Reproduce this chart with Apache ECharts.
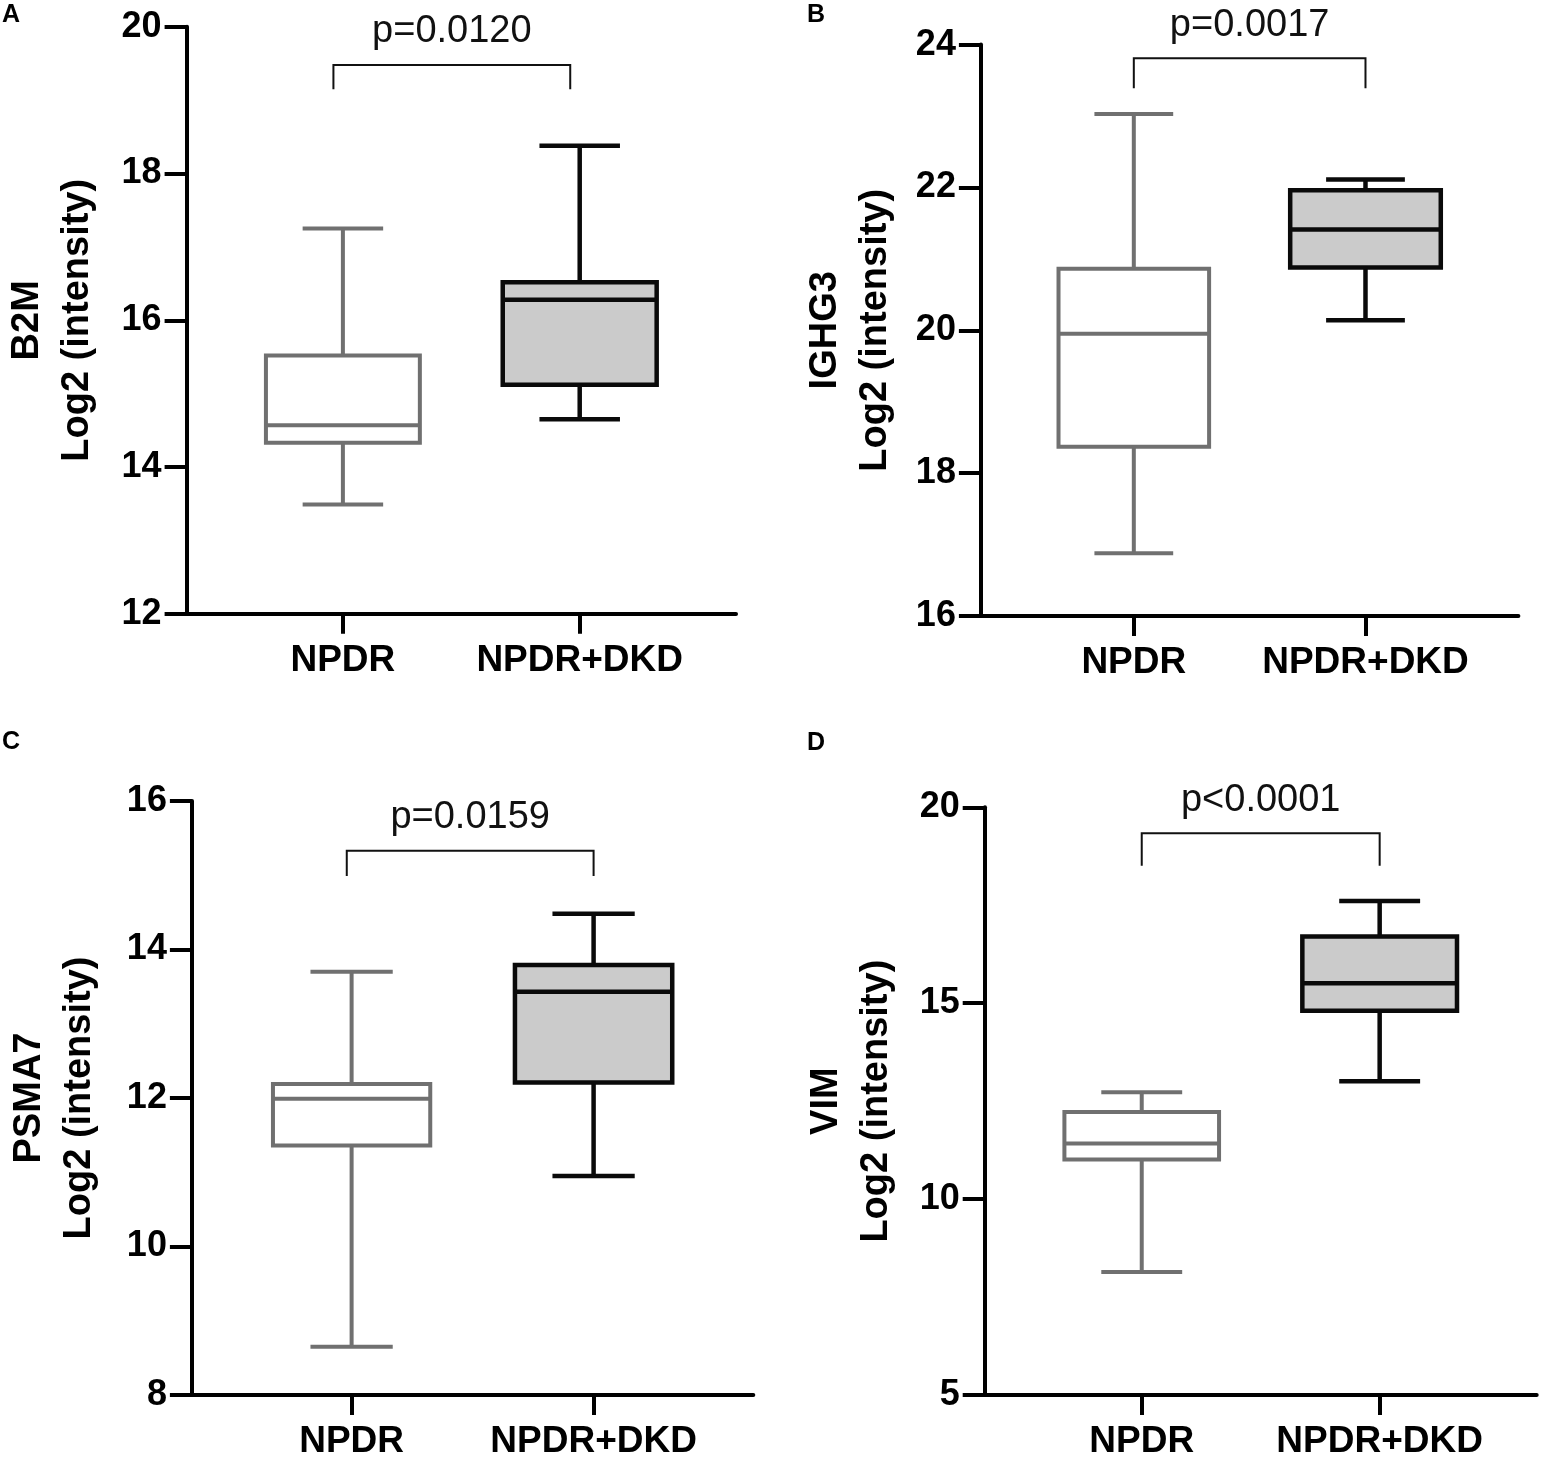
<!DOCTYPE html>
<html>
<head>
<meta charset="utf-8">
<title>Box plots</title>
<script src="https://cdn.jsdelivr.net/npm/echarts@6/dist/echarts.min.js"></script>
<style>
  html, body { margin: 0; padding: 0; background: #fff; }
  #chart { width: 1544px; height: 1460px; }
</style>
</head>
<body>
<div id="chart"></div>
<script>
// group labels (x axis)
const categories = ['NPDR', 'NPDR+DKD']

// box stats per group: [min, Q1, median, Q3, max]
const b2mNPDR = [13.49, 14.33, 14.57, 15.52, 17.25]
const b2mDKD = [14.65, 15.12, 16.28, 16.52, 18.38]
const ighg3NPDR = [16.88, 18.37, 19.95, 20.86, 23.03]
const ighg3DKD = [20.14, 20.88, 21.41, 21.96, 22.11]
const psma7NPDR = [8.65, 11.36, 11.99, 12.19, 13.70]
const psma7DKD = [10.95, 12.21, 13.43, 13.79, 14.48]
const vimNPDR = [8.14, 11.01, 11.42, 12.22, 12.73]
const vimDKD = [13.01, 14.81, 15.51, 16.70, 17.61]

// y axis ranges / ticks
const yMin = [12, 16, 8, 5]
const yMax = [20, 24, 16, 20]
const yStep = [2, 2, 2, 5]

// axis titles and panel letters
const proteins = ['B2M', 'IGHG3', 'PSMA7', 'VIM']
const panelLetters = ['A', 'B', 'C', 'D']

// significance brackets: p text, bracket x ends, bar level, tip level
const pValues = ['p=0.0120', 'p=0.0017', 'p=0.0159', 'p<0.0001']
const bracketLeft = [-0.04, 0, -0.02, 0]
const bracketRight = [0.96, 1, 1, 1]
const bracketTop = [19.48, 23.81, 15.33, 19.34]
const bracketTip = [19.15, 23.39, 14.99, 18.51]

const boxData = [
  [b2mNPDR, b2mDKD],
  [ighg3NPDR, ighg3DKD],
  [psma7NPDR, psma7DKD],
  [vimNPDR, vimDKD]
]

// look
const FONT = 'Liberation Sans, Arial, Helvetica, sans-serif'
const BOX_W = 0.65
const CAP_W = 0.34
const boxStyles = [
  { stroke: '#707070', fill: '#ffffff', lineWidth: 4 },
  { stroke: '#0a0a0a', fill: '#cbcbcb', lineWidth: 4.5 }
]

const grids = [
  { left: 186.6, top: 26.8, width: 549.4, height: 587 },
  { left: 980.9, top: 44.6, width: 537.5, height: 571.4 },
  { left: 191.9, top: 801, width: 561.4, height: 598.3 },
  { left: 984.7, top: 807.3, width: 552, height: 591.7 }
]
const nameGaps = [84, 80, 87, 83]
const letterPos = [[2, 3], [807, 3], [2, 730], [807, 731]]

function renderBox(params, api) {
  var st = boxStyles[params.dataIndex]
  var x = api.value(0)
  var lo = api.coord([x, api.value(1)])
  var q1 = api.coord([x, api.value(2)])
  var med = api.coord([x, api.value(3)])
  var q3 = api.coord([x, api.value(4)])
  var hi = api.coord([x, api.value(5)])
  var bw = api.size([BOX_W, 0])[0]
  var cw = api.size([CAP_W, 0])[0]
  var cx = lo[0]
  var line = { stroke: st.stroke, lineWidth: st.lineWidth }
  return {
    type: 'group',
    children: [
      { type: 'line', shape: { x1: cx, y1: hi[1], x2: cx, y2: q3[1] }, style: line },
      { type: 'line', shape: { x1: cx, y1: q1[1], x2: cx, y2: lo[1] }, style: line },
      { type: 'line', shape: { x1: cx - cw / 2, y1: hi[1], x2: cx + cw / 2, y2: hi[1] }, style: line },
      { type: 'line', shape: { x1: cx - cw / 2, y1: lo[1], x2: cx + cw / 2, y2: lo[1] }, style: line },
      {
        type: 'rect',
        shape: { x: cx - bw / 2, y: q3[1], width: bw, height: q1[1] - q3[1] },
        style: { fill: st.fill, stroke: st.stroke, lineWidth: st.lineWidth }
      },
      { type: 'line', shape: { x1: cx - bw / 2, y1: med[1], x2: cx + bw / 2, y2: med[1] }, style: line }
    ]
  }
}

function renderBracket(params, api) {
  var a = api.coord([api.value(0), api.value(2)])
  var b = api.coord([api.value(1), api.value(2)])
  var tip = api.coord([api.value(0), api.value(3)])
  return {
    type: 'group',
    children: [
      {
        type: 'polyline',
        shape: { points: [[a[0], tip[1]], a, b, [b[0], tip[1]]] },
        style: { stroke: '#111', lineWidth: 2, fill: null }
      },
      {
        type: 'text',
        x: (a[0] + b[0]) / 2,
        y: a[1] - 14,
        style: {
          text: pValues[params.seriesIndex / 2 | 0],
          fontSize: 38,
          fontFamily: FONT,
          fill: '#111',
          align: 'center',
          verticalAlign: 'bottom'
        }
      }
    ]
  }
}

var chart = echarts.init(document.getElementById('chart'), null, { renderer: 'canvas' })

var xAxes = []
var yAxes = []
var series = []
for (var i = 0; i < 4; i++) {
  xAxes.push({
    gridIndex: i,
    type: 'value',
    min: -0.66,
    max: 1.66,
    splitLine: { show: false },
    axisLine: { show: true, onZero: false, lineStyle: { color: '#000', width: 4 } },
    axisTick: { show: true, customValues: [0, 1], length: 20, lineStyle: { color: '#000', width: 4 } },
    axisLabel: {
      customValues: [0, 1],
      formatter: function (v) { return categories[Math.round(v)] },
      margin: 28,
      fontSize: 37,
      fontWeight: 'bold',
      fontFamily: FONT,
      color: '#000'
    }
  })
  yAxes.push({
    gridIndex: i,
    type: 'value',
    min: yMin[i],
    max: yMax[i],
    interval: yStep[i],
    name: proteins[i] + '\nLog2 (intensity)',
    nameLocation: 'middle',
    nameGap: nameGaps[i],
    nameTextStyle: { fontSize: 38, fontWeight: 'bold', fontFamily: FONT, color: '#000', lineHeight: 50 },
    splitLine: { show: false },
    axisLine: { show: true, onZero: false, lineStyle: { color: '#000', width: 4 } },
    axisTick: { show: true, length: 22, lineStyle: { color: '#000', width: 4 } },
    axisLabel: { margin: 25, fontSize: 36, fontWeight: 'bold', fontFamily: FONT, color: '#000' }
  })
  series.push({
    type: 'custom',
    xAxisIndex: i,
    yAxisIndex: i,
    clip: false,
    renderItem: renderBox,
    data: boxData[i].map(function (s, k) { return [k].concat(s) })
  })
  series.push({
    type: 'custom',
    xAxisIndex: i,
    yAxisIndex: i,
    clip: false,
    renderItem: renderBracket,
    data: [[bracketLeft[i], bracketRight[i], bracketTop[i], bracketTip[i]]]
  })
}

var option = {
  animation: false,
  backgroundColor: '#fff',
  title: panelLetters.map(function (t, k) {
    return {
      text: t,
      left: letterPos[k][0],
      top: letterPos[k][1],
      padding: 0,
      textStyle: { fontSize: 25, fontWeight: 'bold', fontFamily: FONT, color: '#000' }
    }
  }),
  grid: grids,
  xAxis: xAxes,
  yAxis: yAxes,
  series: series
}

chart.setOption(option)
</script>
</body>
</html>
